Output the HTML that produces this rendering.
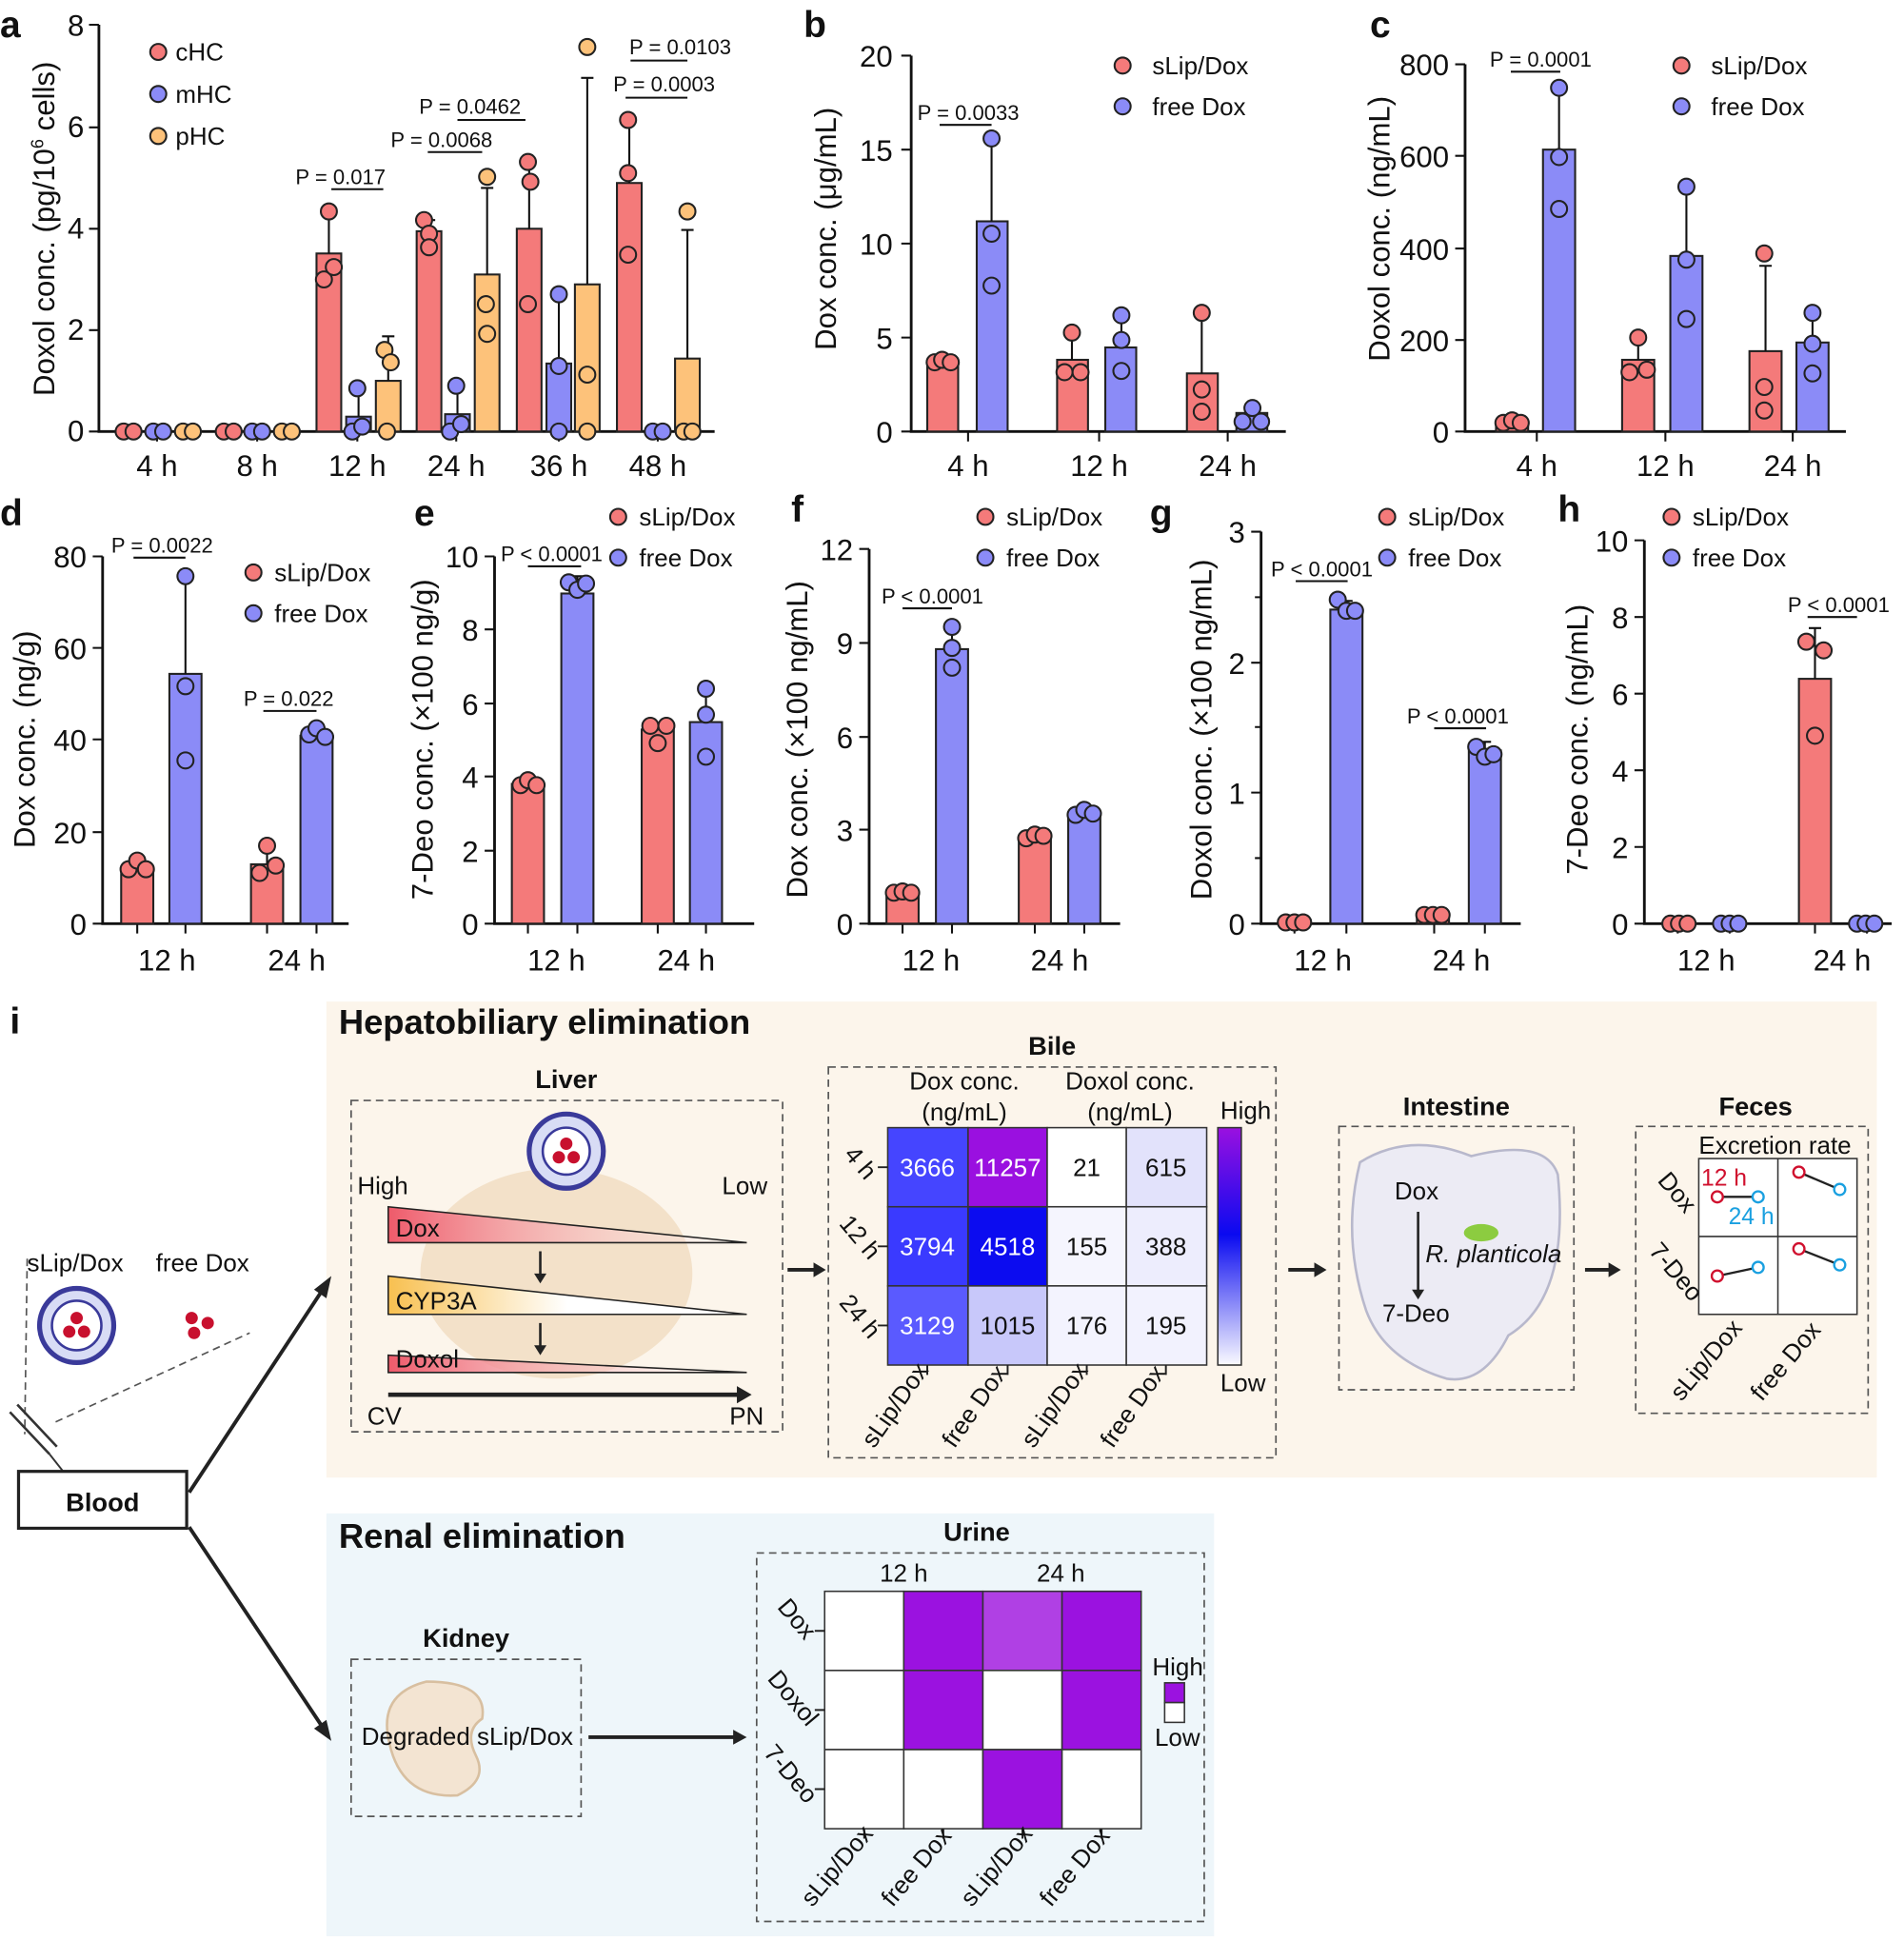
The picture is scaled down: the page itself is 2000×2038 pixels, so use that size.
<!DOCTYPE html>
<html><head><meta charset="utf-8"><style>
html,body{margin:0;padding:0;background:#fff}
svg{display:block}
text{font-family:"Liberation Sans",Arial,sans-serif;fill:#111}
.r{fill:#f47a7a;stroke:#222;stroke-width:1.6}
.b{fill:#8b8bf7;stroke:#222;stroke-width:1.6}
.o{fill:#fdc27a;stroke:#222;stroke-width:1.6}
.ax{stroke:#111;stroke-width:2.2;fill:none}
.e{stroke:#111;stroke-width:1.6;fill:none}
.t{font-size:24px}
.tt{font-size:24px}
.l{font-size:20px}
.p{font-size:17px}
.L{font-size:30px;font-weight:bold}
.h{font-size:28px;font-weight:bold}
.s{font-size:21px;font-weight:bold}
.dash{fill:none;stroke:#555;stroke-width:1.3;stroke-dasharray:6 4}
</style></head><body>
<svg width="2000" height="2038" viewBox="0 0 1540 1569" preserveAspectRatio="none" xmlns="http://www.w3.org/2000/svg">
<defs>
<linearGradient id="cb" x1="0" y1="0" x2="0" y2="1"><stop offset="0" stop-color="#9a10e0"/><stop offset="0.45" stop-color="#0a0af0"/><stop offset="1" stop-color="#fafaff"/></linearGradient>
<linearGradient id="gr" x1="0" x2="1"><stop offset="0" stop-color="#ee5a6a"/><stop offset="1" stop-color="#fff" stop-opacity="0.2"/></linearGradient>
<linearGradient id="go" x1="0" x2="1"><stop offset="0" stop-color="#f8c050"/><stop offset="0.5" stop-color="#fff"/></linearGradient>
</defs>

<!-- ===== Panel a ===== -->
<text x="0" y="30" class="L">a</text>
<path class="ax" d="M80 20 V349 H578"/>
<path class="e" d="M72 20H80M72 103H80M72 185H80M72 267H80M72 349H80 M127 349v8M208 349v8M289 349v8M369 349v8M452 349v8M532 349v8"/>
<g class="t" text-anchor="end"><text x="68" y="29">8</text><text x="68" y="111">6</text><text x="68" y="193">4</text><text x="68" y="275">2</text><text x="68" y="357">0</text></g>
<g class="t" text-anchor="middle"><text x="127" y="385">4 h</text><text x="208" y="385">8 h</text><text x="289" y="385">12 h</text><text x="369" y="385">24 h</text><text x="452" y="385">36 h</text><text x="532" y="385">48 h</text></g>
<text transform="translate(44 185) rotate(-90)" class="tt" text-anchor="middle">Doxol conc. (pg/10<tspan font-size="14" dy="-9">6</tspan><tspan dy="9"> cells)</tspan></text>
<rect class="r" x="256" y="205" width="20" height="144"/><rect class="b" x="280" y="337" width="20" height="12"/><rect class="o" x="304" y="308" width="20" height="41"/>
<rect class="r" x="337" y="187" width="20" height="162"/><rect class="b" x="360" y="335" width="20" height="14"/><rect class="o" x="384" y="222" width="20" height="127"/>
<rect class="r" x="418" y="185" width="20" height="164"/><rect class="b" x="442" y="294" width="20" height="55"/><rect class="o" x="465" y="230" width="20" height="119"/>
<rect class="r" x="499" y="148" width="20" height="201"/><rect class="o" x="546" y="290" width="20" height="59"/>
<path class="e" d="M266 205V170M261 170h10 M290 337V310M285 310h10 M314 308V272M309 272h10 M347 187V178M342 178h10 M370 335V312M365 312h10 M394 222V152M389 152h10 M428 185V131M423 131h10 M452 294V238M447 238h10 M475 230V63M470 63h10 M509 148V96M504 96h10 M556 290V186M551 186h10"/>
<g stroke="#222" stroke-width="1.5">
<g class="r"><circle cx="100" cy="349" r="6.5"/><circle cx="108" cy="349" r="6.5"/><circle cx="181" cy="349" r="6.5"/><circle cx="189" cy="349" r="6.5"/><circle cx="266" cy="171" r="6.5"/><circle cx="262" cy="226" r="6.5"/><circle cx="270" cy="216" r="6.5"/><circle cx="343" cy="178" r="6.5"/><circle cx="347" cy="189" r="6.5"/><circle cx="347" cy="200" r="6.5"/><circle cx="427" cy="131" r="6.5"/><circle cx="429" cy="147" r="6.5"/><circle cx="427" cy="246" r="6.5"/><circle cx="508" cy="97" r="6.5"/><circle cx="508" cy="140" r="6.5"/><circle cx="508" cy="206" r="6.5"/></g>
<g class="b"><circle cx="124" cy="349" r="6.5"/><circle cx="132" cy="349" r="6.5"/><circle cx="204" cy="349" r="6.5"/><circle cx="212" cy="349" r="6.5"/><circle cx="289" cy="314" r="6.5"/><circle cx="285" cy="349" r="6.5"/><circle cx="293" cy="345" r="6.5"/><circle cx="369" cy="312" r="6.5"/><circle cx="364" cy="349" r="6.5"/><circle cx="373" cy="343" r="6.5"/><circle cx="452" cy="238" r="6.5"/><circle cx="452" cy="296" r="6.5"/><circle cx="452" cy="349" r="6.5"/><circle cx="528" cy="349" r="6.5"/><circle cx="536" cy="349" r="6.5"/></g>
<g class="o"><circle cx="148" cy="349" r="6.5"/><circle cx="156" cy="349" r="6.5"/><circle cx="228" cy="349" r="6.5"/><circle cx="236" cy="349" r="6.5"/><circle cx="311" cy="283" r="6.5"/><circle cx="316" cy="293" r="6.5"/><circle cx="313" cy="349" r="6.5"/><circle cx="394" cy="143" r="6.5"/><circle cx="393" cy="246" r="6.5"/><circle cx="394" cy="270" r="6.5"/><circle cx="475" cy="38" r="6.5"/><circle cx="475" cy="303" r="6.5"/><circle cx="475" cy="349" r="6.5"/><circle cx="556" cy="171" r="6.5"/><circle cx="553" cy="349" r="6.5"/><circle cx="560" cy="349" r="6.5"/></g>
<circle class="r" cx="128" cy="42" r="6.5"/><circle class="b" cx="128" cy="76" r="6.5"/><circle class="o" cx="128" cy="110" r="6.5"/>
</g>
<g class="l"><text x="142" y="49">cHC</text><text x="142" y="83">mHC</text><text x="142" y="117">pHC</text></g>
<g class="p"><text x="239" y="149">P = 0.017</text><text x="316" y="119">P = 0.0068</text><text x="339" y="92">P = 0.0462</text><text x="509" y="44">P = 0.0103</text><text x="496" y="74">P = 0.0003</text></g>
<path class="e" d="M268 153H310M346 123H390M370 97H425M510 49H556M506 79H556"/>

<!-- ===== Panel b ===== -->
<text x="650" y="30" class="L">b</text>
<path class="ax" d="M737 45V349H1040"/>
<path class="e" d="M729 45h8M729 121h8M729 197h8M729 273h8M729 349h8M783 349v8M889 349v8M993 349v8"/>
<g class="t" text-anchor="end"><text x="722" y="54">20</text><text x="722" y="130">15</text><text x="722" y="206">10</text><text x="722" y="282">5</text><text x="722" y="358">0</text></g>
<g class="t" text-anchor="middle"><text x="783" y="385">4 h</text><text x="889" y="385">12 h</text><text x="993" y="385">24 h</text></g>
<text transform="translate(676 185) rotate(-90)" class="tt" text-anchor="middle">Dox conc. (μg/mL)</text>
<rect class="r" x="750" y="293" width="25" height="56"/><rect class="b" x="790" y="179" width="25" height="170"/>
<rect class="r" x="855" y="291" width="25" height="58"/><rect class="b" x="894" y="281" width="25" height="68"/>
<rect class="r" x="960" y="302" width="25" height="47"/><rect class="b" x="1000" y="334" width="25" height="15"/>
<path class="e" d="M802 179V111M797 111h10 M867 291V270M862 270h10 M907 281V256M902 256h10 M972 302V254M967 254h10"/>
<g stroke="#222" stroke-width="1.5"><g class="r"><circle cx="756" cy="293" r="6.5"/><circle cx="762" cy="291" r="6.5"/><circle cx="769" cy="293" r="6.5"/><circle cx="867" cy="269" r="6.5"/><circle cx="861" cy="301" r="6.5"/><circle cx="874" cy="301" r="6.5"/><circle cx="972" cy="253" r="6.5"/><circle cx="972" cy="315" r="6.5"/><circle cx="972" cy="333" r="6.5"/><circle cx="908" cy="53" r="6.5"/></g>
<g class="b"><circle cx="802" cy="112" r="6.5"/><circle cx="802" cy="189" r="6.5"/><circle cx="802" cy="231" r="6.5"/><circle cx="907" cy="255" r="6.5"/><circle cx="907" cy="275" r="6.5"/><circle cx="907" cy="300" r="6.5"/><circle cx="1005" cy="341" r="6.5"/><circle cx="1013" cy="330" r="6.5"/><circle cx="1020" cy="341" r="6.5"/><circle cx="908" cy="86" r="6.5"/></g></g>
<g class="l"><text x="932" y="60">sLip/Dox</text><text x="932" y="93">free Dox</text></g>
<text x="742" y="97" class="p">P = 0.0033</text><path class="e" d="M760 101H802"/>

<!-- ===== Panel c ===== -->
<text x="1108" y="30" class="L">c</text>
<path class="ax" d="M1185 52V349H1493"/>
<path class="e" d="M1177 52h8M1177 126h8M1177 201h8M1177 275h8M1177 349h8M1243 349v8M1347 349v8M1450 349v8"/>
<g class="t" text-anchor="end"><text x="1172" y="61">800</text><text x="1172" y="135">600</text><text x="1172" y="210">400</text><text x="1172" y="284">200</text><text x="1172" y="358">0</text></g>
<g class="t" text-anchor="middle"><text x="1243" y="385">4 h</text><text x="1347" y="385">12 h</text><text x="1450" y="385">24 h</text></g>
<text transform="translate(1124 185) rotate(-90)" class="tt" text-anchor="middle">Doxol conc. (ng/mL)</text>
<rect class="r" x="1210" y="342" width="26" height="7"/><rect class="b" x="1248" y="121" width="26" height="228"/>
<rect class="r" x="1312" y="291" width="26" height="58"/><rect class="b" x="1351" y="207" width="26" height="142"/>
<rect class="r" x="1415" y="284" width="26" height="65"/><rect class="b" x="1453" y="277" width="26" height="72"/>
<path class="e" d="M1261 121V72M1256 72h10 M1325 291V274M1320 274h10 M1364 207V152M1359 152h10 M1428 284V215M1423 215h10 M1466 277V253M1461 253h10"/>
<g stroke="#222" stroke-width="1.5"><g class="r"><circle cx="1216" cy="342" r="6.5"/><circle cx="1223" cy="340" r="6.5"/><circle cx="1230" cy="342" r="6.5"/><circle cx="1325" cy="273" r="6.5"/><circle cx="1318" cy="301" r="6.5"/><circle cx="1332" cy="299" r="6.5"/><circle cx="1427" cy="205" r="6.5"/><circle cx="1427" cy="313" r="6.5"/><circle cx="1427" cy="332" r="6.5"/><circle cx="1360" cy="53" r="6.5"/></g>
<g class="b"><circle cx="1261" cy="71" r="6.5"/><circle cx="1261" cy="127" r="6.5"/><circle cx="1261" cy="169" r="6.5"/><circle cx="1364" cy="151" r="6.5"/><circle cx="1364" cy="210" r="6.5"/><circle cx="1364" cy="258" r="6.5"/><circle cx="1466" cy="253" r="6.5"/><circle cx="1466" cy="278" r="6.5"/><circle cx="1466" cy="302" r="6.5"/><circle cx="1360" cy="86" r="6.5"/></g></g>
<g class="l"><text x="1384" y="60">sLip/Dox</text><text x="1384" y="93">free Dox</text></g>
<text x="1205" y="54" class="p">P = 0.0001</text><path class="e" d="M1222 58H1262"/>

<!-- ===== Panel d ===== -->
<text x="0" y="425" class="L">d</text>
<path class="ax" d="M83 450V747H282"/>
<path class="e" d="M75 450h8M75 524h8M75 598h8M75 673h8M75 747h8M111 747v8M150 747v8M216 747v8M256 747v8"/>
<g class="t" text-anchor="end"><text x="70" y="459">80</text><text x="70" y="533">60</text><text x="70" y="607">40</text><text x="70" y="682">20</text><text x="70" y="756">0</text></g>
<g class="t" text-anchor="middle"><text x="135" y="785">12 h</text><text x="240" y="785">24 h</text></g>
<text transform="translate(28 598) rotate(-90)" class="tt" text-anchor="middle">Dox conc. (ng/g)</text>
<rect class="r" x="98" y="702" width="26" height="45"/><rect class="b" x="137" y="545" width="26" height="202"/>
<rect class="r" x="203" y="699" width="26" height="48"/><rect class="b" x="243" y="595" width="26" height="152"/>
<path class="e" d="M150 545V466M145 466h10 M216 699V684M211 684h10 M256 595V588M251 588h10"/>
<g stroke="#222" stroke-width="1.5"><g class="r"><circle cx="104" cy="703" r="6.5"/><circle cx="111" cy="696" r="6.5"/><circle cx="118" cy="703" r="6.5"/><circle cx="216" cy="684" r="6.5"/><circle cx="210" cy="706" r="6.5"/><circle cx="223" cy="700" r="6.5"/><circle cx="205" cy="463" r="6.5"/></g>
<g class="b"><circle cx="150" cy="466" r="6.5"/><circle cx="150" cy="555" r="6.5"/><circle cx="150" cy="615" r="6.5"/><circle cx="250" cy="594" r="6.5"/><circle cx="256" cy="589" r="6.5"/><circle cx="263" cy="596" r="6.5"/><circle cx="205" cy="496" r="6.5"/></g></g>
<g class="l"><text x="222" y="470">sLip/Dox</text><text x="222" y="503">free Dox</text></g>
<text x="90" y="447" class="p">P = 0.0022</text><path class="e" d="M108 451H150"/>
<text x="197" y="571" class="p">P = 0.022</text><path class="e" d="M213 575H256"/>

<!-- ===== Panel e ===== -->
<text x="335" y="425" class="L">e</text>
<path class="ax" d="M400 450V747H610"/>
<path class="e" d="M392 450h8M392 509h8M392 569h8M392 628h8M392 688h8M392 747h8M427 747v8M467 747v8M532 747v8M571 747v8"/>
<g class="t" text-anchor="end"><text x="387" y="459">10</text><text x="387" y="518">8</text><text x="387" y="578">6</text><text x="387" y="637">4</text><text x="387" y="697">2</text><text x="387" y="756">0</text></g>
<g class="t" text-anchor="middle"><text x="450" y="785">12 h</text><text x="555" y="785">24 h</text></g>
<text transform="translate(350 598) rotate(-90)" class="tt" text-anchor="middle">7-Deo conc. (×100 ng/g)</text>
<rect class="r" x="414" y="634" width="26" height="113"/><rect class="b" x="454" y="480" width="26" height="267"/>
<rect class="r" x="519" y="590" width="26" height="157"/><rect class="b" x="558" y="584" width="26" height="163"/>
<path class="e" d="M467 480V466M462 466h10 M571 584V560M566 560h10"/>
<g stroke="#222" stroke-width="1.5"><g class="r"><circle cx="421" cy="635" r="6.5"/><circle cx="427" cy="631" r="6.5"/><circle cx="434" cy="635" r="6.5"/><circle cx="526" cy="587" r="6.5"/><circle cx="532" cy="601" r="6.5"/><circle cx="539" cy="587" r="6.5"/><circle cx="500" cy="418" r="6.5"/></g>
<g class="b"><circle cx="460" cy="471" r="6.5"/><circle cx="467" cy="477" r="6.5"/><circle cx="474" cy="472" r="6.5"/><circle cx="571" cy="557" r="6.5"/><circle cx="571" cy="578" r="6.5"/><circle cx="571" cy="612" r="6.5"/><circle cx="500" cy="451" r="6.5"/></g></g>
<g class="l"><text x="517" y="425">sLip/Dox</text><text x="517" y="458">free Dox</text></g>
<text x="405" y="454" class="p">P &lt; 0.0001</text><path class="e" d="M427 458H470"/>

<!-- ===== Panel f ===== -->
<text x="640" y="422" class="L">f</text>
<path class="ax" d="M703 444V747H906"/>
<path class="e" d="M695 444h8M695 520h8M695 596h8M695 671h8M695 747h8M730 747v8M770 747v8M837 747v8M877 747v8"/>
<g class="t" text-anchor="end"><text x="690" y="453">12</text><text x="690" y="529">9</text><text x="690" y="605">6</text><text x="690" y="680">3</text><text x="690" y="756">0</text></g>
<g class="t" text-anchor="middle"><text x="753" y="785">12 h</text><text x="857" y="785">24 h</text></g>
<text transform="translate(653 598) rotate(-90)" class="tt" text-anchor="middle">Dox conc. (×100 ng/mL)</text>
<rect class="r" x="717" y="722" width="26" height="25"/><rect class="b" x="757" y="525" width="26" height="222"/>
<rect class="r" x="824" y="676" width="26" height="71"/><rect class="b" x="864" y="659" width="26" height="88"/>
<path class="e" d="M770 525V506M765 506h10"/>
<g stroke="#222" stroke-width="1.5"><g class="r"><circle cx="723" cy="722" r="6.5"/><circle cx="730" cy="721" r="6.5"/><circle cx="737" cy="722" r="6.5"/><circle cx="830" cy="678" r="6.5"/><circle cx="837" cy="675" r="6.5"/><circle cx="844" cy="676" r="6.5"/><circle cx="797" cy="418" r="6.5"/></g>
<g class="b"><circle cx="770" cy="507" r="6.5"/><circle cx="770" cy="524" r="6.5"/><circle cx="770" cy="540" r="6.5"/><circle cx="870" cy="659" r="6.5"/><circle cx="877" cy="655" r="6.5"/><circle cx="884" cy="658" r="6.5"/><circle cx="797" cy="451" r="6.5"/></g></g>
<g class="l"><text x="814" y="425">sLip/Dox</text><text x="814" y="458">free Dox</text></g>
<text x="713" y="488" class="p">P &lt; 0.0001</text><path class="e" d="M730 492H770"/>

<!-- ===== Panel g ===== -->
<text x="930" y="425" class="L">g</text>
<path class="ax" d="M1020 430V747H1230"/>
<path class="e" d="M1012 430h8M1015 483h5M1012 536h8M1015 588h5M1012 641h8M1015 694h5M1012 747h8M1047 747v8M1089 747v8M1160 747v8M1201 747v8"/>
<g class="t" text-anchor="end"><text x="1007" y="439">3</text><text x="1007" y="545">2</text><text x="1007" y="650">1</text><text x="1007" y="756">0</text></g>
<g class="t" text-anchor="middle"><text x="1070" y="785">12 h</text><text x="1182" y="785">24 h</text></g>
<text transform="translate(980 590) rotate(-90)" class="tt" text-anchor="middle">Doxol conc. (×100 ng/mL)</text>
<rect class="r" x="1034" y="744" width="26" height="3"/><rect class="b" x="1076" y="493" width="26" height="254"/>
<rect class="r" x="1146" y="740" width="26" height="7"/><rect class="b" x="1188" y="607" width="26" height="140"/>
<path class="e" d="M1089 493V486M1084 486h10 M1201 607V600M1196 600h10"/>
<g stroke="#222" stroke-width="1.5"><g class="r"><circle cx="1040" cy="746" r="6.5"/><circle cx="1047" cy="746" r="6.5"/><circle cx="1054" cy="746" r="6.5"/><circle cx="1152" cy="740" r="6.5"/><circle cx="1159" cy="740" r="6.5"/><circle cx="1166" cy="740" r="6.5"/><circle cx="1122" cy="418" r="6.5"/></g>
<g class="b"><circle cx="1082" cy="485" r="6.5"/><circle cx="1089" cy="494" r="6.5"/><circle cx="1096" cy="494" r="6.5"/><circle cx="1194" cy="604" r="6.5"/><circle cx="1201" cy="612" r="6.5"/><circle cx="1208" cy="610" r="6.5"/><circle cx="1122" cy="451" r="6.5"/></g></g>
<g class="l"><text x="1139" y="425">sLip/Dox</text><text x="1139" y="458">free Dox</text></g>
<text x="1028" y="466" class="p">P &lt; 0.0001</text><path class="e" d="M1048 470H1090"/>
<text x="1138" y="585" class="p">P &lt; 0.0001</text><path class="e" d="M1160 589H1202"/>

<!-- ===== Panel h ===== -->
<text x="1260" y="422" class="L">h</text>
<path class="ax" d="M1330 437V747H1530"/>
<path class="e" d="M1322 437h8M1322 499h8M1322 561h8M1322 623h8M1322 685h8M1322 747h8M1357 747v8M1399 747v8M1468 747v8M1510 747v8"/>
<g class="t" text-anchor="end"><text x="1317" y="446">10</text><text x="1317" y="508">8</text><text x="1317" y="570">6</text><text x="1317" y="632">4</text><text x="1317" y="694">2</text><text x="1317" y="756">0</text></g>
<g class="t" text-anchor="middle"><text x="1380" y="785">12 h</text><text x="1490" y="785">24 h</text></g>
<text transform="translate(1284 598) rotate(-90)" class="tt" text-anchor="middle">7-Deo conc. (ng/mL)</text>
<rect class="r" x="1455" y="549" width="26" height="198"/>
<path class="e" d="M1468 549V508M1463 508h10"/>
<g stroke="#222" stroke-width="1.5"><g class="r"><circle cx="1351" cy="747" r="6.5"/><circle cx="1358" cy="747" r="6.5"/><circle cx="1365" cy="747" r="6.5"/><circle cx="1461" cy="519" r="6.5"/><circle cx="1475" cy="526" r="6.5"/><circle cx="1468" cy="595" r="6.5"/><circle cx="1352" cy="418" r="6.5"/></g>
<g class="b"><circle cx="1392" cy="747" r="6.5"/><circle cx="1399" cy="747" r="6.5"/><circle cx="1406" cy="747" r="6.5"/><circle cx="1502" cy="747" r="6.5"/><circle cx="1509" cy="747" r="6.5"/><circle cx="1516" cy="747" r="6.5"/><circle cx="1352" cy="451" r="6.5"/></g></g>
<g class="l"><text x="1369" y="425">sLip/Dox</text><text x="1369" y="458">free Dox</text></g>
<text x="1446" y="495" class="p">P &lt; 0.0001</text><path class="e" d="M1462 499H1502"/>

<!-- ===== Panel i ===== -->
<text x="8" y="836" class="L">i</text>
<rect x="264" y="810" width="1254" height="385" fill="#fcf5eb"/>
<rect x="264" y="1224" width="718" height="342" fill="#eef6fa"/>
<text x="274" y="836" class="h">Hepatobiliary elimination</text>
<text x="274" y="1252" class="h">Renal elimination</text>

<!-- blood/syringe -->
<path class="dash" d="M22 1018 L20 1160 M45 1150 L202 1078"/>
<text x="22" y="1028" class="l">sLip/Dox</text><text x="126" y="1028" class="l">free Dox</text>
<circle cx="62" cy="1072" r="30" fill="#d8dcf5" stroke="#3a3a9a" stroke-width="4"/><circle cx="62" cy="1072" r="20" fill="#fff" stroke="#3a3a9a" stroke-width="2"/>
<circle cx="62" cy="1066" r="5" fill="#c8102e"/><circle cx="56" cy="1077" r="5" fill="#c8102e"/><circle cx="68" cy="1077" r="5" fill="#c8102e"/>
<circle cx="155" cy="1066" r="5" fill="#c8102e"/><circle cx="168" cy="1070" r="5" fill="#c8102e"/><circle cx="157" cy="1078" r="5" fill="#c8102e"/>
<path d="M8 1142 L40 1176 M14 1136 L46 1170" stroke="#333" stroke-width="2"/><path d="M40 1176 L55 1195" stroke="#333" stroke-width="1.5"/>
<rect x="15" y="1190" width="136" height="46" fill="#fff" stroke="#222" stroke-width="2.5"/>
<text x="83" y="1222" class="s" text-anchor="middle" font-size="23">Blood</text>
<path d="M153 1207 L265 1037 M153 1235 L265 1403" stroke="#222" stroke-width="3"/>
<path d="M268 1032 l-4 18 l-10 -7z M268 1408 l-14 -10 l10 -7z" fill="#222"/>

<!-- liver -->
<text x="458" y="880" class="s" text-anchor="middle">Liver</text>
<rect class="dash" x="284" y="890" width="349" height="268"/>
<ellipse cx="450" cy="1030" rx="110" ry="85" fill="#e9c9a0" opacity="0.45"/>
<circle cx="458" cy="931" r="30" fill="#d8dcf5" stroke="#3a3a9a" stroke-width="4"/><circle cx="458" cy="931" r="19" fill="#fff" stroke="#3a3a9a" stroke-width="2"/>
<circle cx="458" cy="925" r="5" fill="#c8102e"/><circle cx="452" cy="936" r="5" fill="#c8102e"/><circle cx="464" cy="936" r="5" fill="#c8102e"/>
<text x="289" y="966" class="l">High</text><text x="584" y="966" class="l">Low</text>
<path d="M314 976 L604 1005 L314 1005z" fill="url(#gr)" stroke="#222" stroke-width="1.2"/>
<path d="M314 1032 L604 1063 L314 1063z" fill="url(#go)" stroke="#222" stroke-width="1.2"/>
<path d="M314 1096 L604 1110 L314 1110z" fill="url(#gr)" stroke="#222" stroke-width="1.2"/>
<text x="320" y="1000" class="l">Dox</text><text x="320" y="1059" class="l">CYP3A</text><text x="320" y="1106" class="l">Doxol</text>
<path d="M437 1012V1032M437 1070V1090" stroke="#222" stroke-width="2"/><path d="M432 1030h10l-5 8zM432 1088h10l-5 8z" fill="#222"/>
<path d="M314 1128H600" stroke="#222" stroke-width="3.5"/><path d="M596 1121l12 7-12 7z" fill="#222"/>
<text x="297" y="1152" class="l">CV</text><text x="590" y="1152" class="l">PN</text>
<path d="M637 1027H660" stroke="#222" stroke-width="3"/><path d="M658 1021l10 6-10 6z" fill="#222"/>

<!-- bile heatmap -->
<text x="851" y="853" class="s" text-anchor="middle">Bile</text>
<rect class="dash" x="670" y="863" width="362" height="316"/>
<text x="780" y="881" class="l" text-anchor="middle">Dox conc.</text><text x="780" y="906" class="l" text-anchor="middle">(ng/mL)</text>
<text x="914" y="881" class="l" text-anchor="middle">Doxol conc.</text><text x="914" y="906" class="l" text-anchor="middle">(ng/mL)</text>
<text x="987" y="905" class="l">High</text><text x="987" y="1125" class="l">Low</text>
<g stroke="#333" stroke-width="1.2">
<rect x="718" y="912" width="65" height="64" fill="#4545ff"/><rect x="783" y="912" width="64" height="64" fill="#9a10e0"/><rect x="847" y="912" width="64" height="64" fill="#fff"/><rect x="911" y="912" width="65" height="64" fill="#e2e2fb"/>
<rect x="718" y="976" width="65" height="64" fill="#3a3aff"/><rect x="783" y="976" width="64" height="64" fill="#0c0cf0"/><rect x="847" y="976" width="64" height="64" fill="#f5f5fe"/><rect x="911" y="976" width="65" height="64" fill="#ededfd"/>
<rect x="718" y="1040" width="65" height="64" fill="#5a5aff"/><rect x="783" y="1040" width="64" height="64" fill="#c8c8fa"/><rect x="847" y="1040" width="64" height="64" fill="#f3f3fe"/><rect x="911" y="1040" width="65" height="64" fill="#f2f2fe"/>
<rect x="985" y="912" width="19" height="192" fill="url(#cb)"/>
</g>
<g class="l" text-anchor="middle"><text x="750" y="951" fill="#fff" style="fill:#fff">3666</text><text x="815" y="951" style="fill:#fff">11257</text><text x="879" y="951">21</text><text x="943" y="951">615</text>
<text x="750" y="1015" style="fill:#fff">3794</text><text x="815" y="1015" style="fill:#fff">4518</text><text x="879" y="1015">155</text><text x="943" y="1015">388</text>
<text x="750" y="1079" style="fill:#fff">3129</text><text x="815" y="1079">1015</text><text x="879" y="1079">176</text><text x="943" y="1079">195</text></g>
<g class="l"><text transform="translate(682 934) rotate(50)">4 h</text><text transform="translate(678 990) rotate(50)">12 h</text><text transform="translate(678 1054) rotate(50)">24 h</text>
<text transform="translate(707 1172) rotate(-55)">sLip/Dox</text><text transform="translate(772 1172) rotate(-55)">free Dox</text><text transform="translate(836 1172) rotate(-55)">sLip/Dox</text><text transform="translate(900 1172) rotate(-55)">free Dox</text></g>
<path d="M710 944h8M710 1008h8M710 1072h8M750 1104v8M815 1104v8M879 1104v8M943 1104v8" stroke="#222" stroke-width="1.5"/>
<path d="M1042 1027H1065" stroke="#222" stroke-width="3"/><path d="M1063 1021l10 6-10 6z" fill="#222"/>

<!-- intestine -->
<text x="1178" y="902" class="s" text-anchor="middle">Intestine</text>
<rect class="dash" x="1083" y="911" width="190" height="213"/>
<path d="M1100 940 Q1140 915 1190 935 Q1250 920 1260 950 Q1270 1050 1220 1080 Q1200 1120 1170 1115 Q1120 1100 1105 1060 Q1085 1000 1100 940z" fill="#ecebf4" stroke="#b8b8cc" stroke-width="2"/>
<text x="1128" y="970" class="l">Dox</text><text x="1118" y="1069" class="l">7-Deo</text>
<text x="1153" y="1021" class="l" font-style="italic">R. planticola</text>
<ellipse cx="1198" cy="997" rx="14" ry="7" fill="#8ccc40"/>
<path d="M1147 980V1045" stroke="#222" stroke-width="2"/><path d="M1142 1043h10l-5 8z" fill="#222"/>
<path d="M1282 1027H1303" stroke="#222" stroke-width="3"/><path d="M1301 1021l10 6-10 6z" fill="#222"/>

<!-- feces -->
<text x="1420" y="902" class="s" text-anchor="middle">Feces</text>
<rect class="dash" x="1323" y="911" width="188" height="232"/>
<text x="1374" y="933" class="l" font-size="19">Excretion rate</text>
<rect x="1374" y="937" width="128" height="126" fill="#fff" stroke="#333" stroke-width="1.2"/>
<path d="M1438 937V1063M1374 1000H1502" stroke="#333" stroke-width="1.2"/>
<text x="1376" y="959" style="fill:#d0102e" font-size="19">12 h</text><text x="1398" y="990" style="fill:#1aa0e0" font-size="19">24 h</text>
<g stroke-width="1.8" fill="#fff"><path d="M1389 968H1422M1455 948L1488 962M1389 1032L1422 1025M1455 1010L1488 1023" stroke="#222"/>
<circle cx="1389" cy="968" r="4.5" stroke="#d0102e"/><circle cx="1422" cy="968" r="4.5" stroke="#1aa0e0"/><circle cx="1455" cy="948" r="4.5" stroke="#d0102e"/><circle cx="1488" cy="962" r="4.5" stroke="#1aa0e0"/>
<circle cx="1389" cy="1032" r="4.5" stroke="#d0102e"/><circle cx="1422" cy="1025" r="4.5" stroke="#1aa0e0"/><circle cx="1455" cy="1010" r="4.5" stroke="#d0102e"/><circle cx="1488" cy="1023" r="4.5" stroke="#1aa0e0"/></g>
<g class="l" font-size="18"><text transform="translate(1340 955) rotate(50)">Dox</text><text transform="translate(1333 1012) rotate(50)">7-Deo</text>
<text transform="translate(1360 1134) rotate(-50)">sLip/Dox</text><text transform="translate(1425 1134) rotate(-50)">free Dox</text></g>

<!-- kidney -->
<text x="377" y="1332" class="s" text-anchor="middle">Kidney</text>
<rect class="dash" x="284" y="1342" width="186" height="127"/>
<path d="M345 1360 Q305 1370 315 1410 Q325 1455 370 1452 Q395 1440 385 1420 Q375 1400 390 1390 Q395 1360 345 1360z" fill="#f3e4d2" stroke="#d8bfa0" stroke-width="2"/>
<text x="378" y="1411" class="l" text-anchor="middle">Degraded sLip/Dox</text>
<path d="M476 1405H595" stroke="#222" stroke-width="3"/><path d="M593 1399l11 6-11 6z" fill="#222"/>

<!-- urine heatmap -->
<text x="790" y="1246" class="s" text-anchor="middle">Urine</text>
<rect class="dash" x="612" y="1256" width="362" height="298"/>
<text x="731" y="1279" class="l" text-anchor="middle">12 h</text><text x="858" y="1279" class="l" text-anchor="middle">24 h</text>
<g stroke="#333" stroke-width="1.2">
<rect x="667" y="1287" width="64" height="64" fill="#fff"/><rect x="731" y="1287" width="64" height="64" fill="#9b12e0"/><rect x="795" y="1287" width="64" height="64" fill="#b040e4"/><rect x="859" y="1287" width="64" height="64" fill="#9b12e0"/>
<rect x="667" y="1351" width="64" height="64" fill="#fff"/><rect x="731" y="1351" width="64" height="64" fill="#9b12e0"/><rect x="795" y="1351" width="64" height="64" fill="#fff"/><rect x="859" y="1351" width="64" height="64" fill="#9b12e0"/>
<rect x="667" y="1415" width="64" height="64" fill="#fff"/><rect x="731" y="1415" width="64" height="64" fill="#fff"/><rect x="795" y="1415" width="64" height="64" fill="#9b12e0"/><rect x="859" y="1415" width="64" height="64" fill="#fff"/>
<rect x="942" y="1361" width="16" height="16" fill="#9b12e0"/><rect x="942" y="1377" width="16" height="16" fill="#fff"/>
</g>
<text x="932" y="1355" class="l" font-size="18">High</text><text x="934" y="1412" class="l" font-size="18">Low</text>
<path d="M659 1319h8M659 1383h8M659 1447h8M699 1479v8M763 1479v8M827 1479v8M891 1479v8" stroke="#222" stroke-width="1.5"/>
<g class="l" font-size="18"><text transform="translate(628 1300) rotate(50)">Dox</text><text transform="translate(620 1358) rotate(50)">Doxol</text><text transform="translate(617 1418) rotate(50)">7-Deo</text>
<text transform="translate(657 1543) rotate(-50)">sLip/Dox</text><text transform="translate(722 1543) rotate(-50)">free Dox</text><text transform="translate(786 1543) rotate(-50)">sLip/Dox</text><text transform="translate(850 1543) rotate(-50)">free Dox</text></g>
</svg>
</body></html>
